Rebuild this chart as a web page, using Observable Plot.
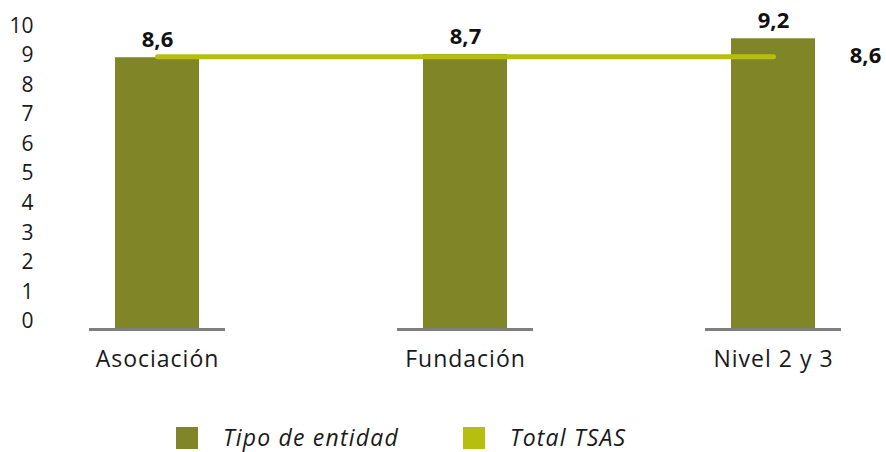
<!DOCTYPE html>
<html>
<head>
<meta charset="utf-8">
<script src="https://cdn.jsdelivr.net/npm/d3@7"></script>
<script src="https://cdn.jsdelivr.net/npm/@observablehq/plot@0.6"></script>
<style>
  html, body { margin: 0; padding: 0; background: #fff; }
  #wrap { position: relative; width: 886px; height: 452px; font-family: "Open Sans", sans-serif; }
  #main { position: absolute; left: 0; top: 0; }
  #yaxis { position: absolute; left: 0; top: 0; }
  #legend { position: absolute; left: 0; top: 400px; width: 886px; height: 52px; }
  .item { position: absolute; top: 27px; display: flex; align-items: center; height: 22px; }
  .sw { width: 22px; height: 22px; display: inline-block; }
  .lab { font-style: italic; font-size: 23px; letter-spacing: 1.2px; color: #1a1a1a; margin-left: 25px; line-height: 22px; position: relative; top: -1px; }
  #main svg g[aria-label="x-axis tick label"] text { letter-spacing: 1px; }
</style>
</head>
<body>
<div id="wrap">
  <div id="main"></div>
  <div id="yaxis"></div>
  <div id="legend"></div>
</div>
<script>
const categories = ["Asociación", "Fundación", "Nivel 2 y 3"];
const entidadValues = [8.6, 8.7, 9.2];
const totalTSAS = 8.6;
const yTicks = [0, 1, 2, 3, 4, 5, 6, 7, 8, 9, 10];
const seriesNames = ["Tipo de entidad", "Total TSAS"];
const seriesColors = ["#808627", "#b6be10"];

const fmt = v => v.toFixed(1).replace(".", ",");
const barData = categories.map((c, i) => ({cat: c, value: entidadValues[i]}));
const totalData = categories.map(c => ({cat: c, value: totalTSAS}));
const font = "'Open Sans', sans-serif";

const main = Plot.plot({
  width: 886,
  height: 400,
  marginLeft: 114,
  marginRight: 70,
  marginTop: 13,
  marginBottom: 71,
  style: {fontFamily: font, fontSize: "23px", color: "#1a1a1a", background: "white"},
  x: {domain: categories, paddingInner: 0.728, paddingOuter: 0, align: 0.5, label: null, tickSize: 0, tickPadding: 21},
  y: {domain: [0, 10], axis: null},
  marks: [
    Plot.barY(barData, {x: "cat", y: "value", fill: seriesColors[0]}),
    Plot.tickY(categories, {x: d => d, y: () => 0, stroke: "#7f7f7f", strokeWidth: 3, insetLeft: -26, insetRight: -26}),
    Plot.lineY(totalData, {x: "cat", y: "value", stroke: seriesColors[1], strokeWidth: 5, dy: -1}),
    Plot.text(barData, {x: "cat", y: "value", text: d => fmt(d.value), dy: -18, fontWeight: "bold", fontSize: 22, fill: "#111"}),
    Plot.text([totalTSAS], {x: () => categories[categories.length - 1], y: d => d, text: d => fmt(d), dx: 92, dy: -2, fontWeight: "bold", fontSize: 22, fill: "#111"})
  ]
});
document.getElementById("main").appendChild(main);

const yaxis = Plot.plot({
  width: 40,
  height: 400,
  marginLeft: 36,
  marginRight: 0,
  marginTop: 25.5,
  marginBottom: 79,
  style: {fontFamily: font, fontSize: "21px", color: "#1a1a1a", background: "transparent"},
  y: {domain: [0, 10], ticks: yTicks, tickSize: 0, tickPadding: 3, label: null, tickFormat: d => String(d)},
  marks: [
    Plot.dot(yTicks, {y: d => d, r: 0})
  ]
});
document.getElementById("yaxis").appendChild(yaxis);

const legend = document.getElementById("legend");
const lefts = [176, 463];
seriesNames.forEach((name, i) => {
  const it = document.createElement("div");
  it.className = "item";
  it.style.left = lefts[i] + "px";
  const sw = document.createElement("span");
  sw.className = "sw";
  sw.style.background = seriesColors[i];
  const lab = document.createElement("span");
  lab.className = "lab";
  lab.textContent = name;
  it.appendChild(sw);
  it.appendChild(lab);
  legend.appendChild(it);
});
</script>
</body>
</html>
